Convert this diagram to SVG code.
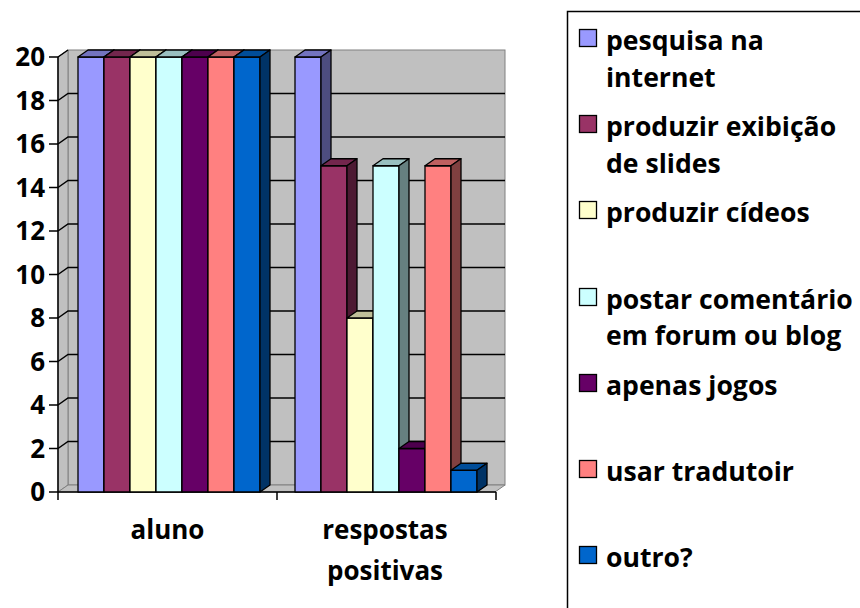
<svg xmlns="http://www.w3.org/2000/svg" width="860" height="608" viewBox="0 0 860 608">
<style>
.lbl{font-family:"Open Sans","Liberation Sans",sans-serif;font-weight:bold;font-size:26px;fill:#000}
.leg{font-family:"Open Sans","Liberation Sans",sans-serif;font-weight:bold;font-size:26.6px;fill:#000}
.wall{fill:#C0C0C0;stroke:#808080;stroke-width:1}
.grid{stroke:#000;stroke-width:1.5;fill:none}
.axis{stroke:#000;stroke-width:1.5;fill:none}
.bar{stroke:#000;stroke-width:1.3;stroke-linejoin:round}
.mk{stroke:#000;stroke-width:1.3}
</style>
<rect x="0" y="0" width="860" height="608" fill="#fff"/>
<g id="plot-area">
  <rect class="wall" x="68" y="50" width="437" height="435"/>
  <polygon class="wall" points="58,57 68,50 68,485 58,492"/>
  <polygon class="wall" points="58,492 68,485 505,485 495,492"/>
</g>
<g id="gridlines" class="grid">
  <path d="M58,448.5 L68,441.5 H505 M58,405 L68,398 H505 M58,361.5 L68,354.5 H505 M58,318 L68,311 H505 M58,274.5 L68,267.5 H505 M58,231 L68,224 H505 M58,187.5 L68,180.5 H505 M58,144 L68,137 H505 M58,100.5 L68,93.5 H505 M58,57 L68,50"/>
</g>
<g id="axes" class="axis">
  <path d="M58,57 V500 M49,492 H496 M49,448.5 H58 M49,405 H58 M49,361.5 H58 M49,318 H58 M49,274.5 H58 M49,231 H58 M49,187.5 H58 M49,144 H58 M49,100.5 H58 M49,57 H58 M277,492 V500 M496,492 V500"/>
</g>
<g id="y-labels" class="lbl" text-anchor="end">
  <text x="45" y="501">0</text>
  <text x="45" y="457.5">2</text>
  <text x="45" y="414">4</text>
  <text x="45" y="370.5">6</text>
  <text x="45" y="327">8</text>
  <text x="45" y="283.5">10</text>
  <text x="45" y="240">12</text>
  <text x="45" y="196.5">14</text>
  <text x="45" y="153">16</text>
  <text x="45" y="109.5">18</text>
  <text x="45" y="66">20</text>
</g>
<g id="x-labels" class="lbl" text-anchor="middle">
  <text x="167.5" y="539">aluno</text>
  <text x="385" y="539">respostas</text>
  <text x="385" y="580">positivas</text>
</g>
<g id="series-pesquisa" class="bar">
  <rect x="78" y="57" width="26" height="435" fill="#9999FF"/>
  <polygon points="78,57 88,50 114,50 104,57" fill="#7373BF"/>
  <polygon points="104,57 114,50 114,485 104,492" fill="#4D4D80"/>
  <rect x="295" y="57" width="26" height="435" fill="#9999FF"/>
  <polygon points="295,57 305,50 331,50 321,57" fill="#7373BF"/>
  <polygon points="321,57 331,50 331,485 321,492" fill="#4D4D80"/>
</g>
<g id="series-slides" class="bar">
  <rect x="104" y="57" width="26" height="435" fill="#993366"/>
  <polygon points="104,57 114,50 140,50 130,57" fill="#73264D"/>
  <polygon points="130,57 140,50 140,485 130,492" fill="#4D1A33"/>
  <rect x="321" y="165.75" width="26" height="326.25" fill="#993366"/>
  <polygon points="321,165.75 331,158.75 357,158.75 347,165.75" fill="#73264D"/>
  <polygon points="347,165.75 357,158.75 357,485 347,492" fill="#4D1A33"/>
</g>
<g id="series-videos" class="bar">
  <rect x="130" y="57" width="26" height="435" fill="#FFFFCC"/>
  <polygon points="130,57 140,50 166,50 156,57" fill="#BFBF99"/>
  <polygon points="156,57 166,50 166,485 156,492" fill="#808066"/>
  <rect x="347" y="318" width="26" height="174" fill="#FFFFCC"/>
  <polygon points="347,318 357,311 383,311 373,318" fill="#BFBF99"/>
  <polygon points="373,318 383,311 383,485 373,492" fill="#808066"/>
</g>
<g id="series-forum" class="bar">
  <rect x="156" y="57" width="26" height="435" fill="#CCFFFF"/>
  <polygon points="156,57 166,50 192,50 182,57" fill="#99BFBF"/>
  <polygon points="182,57 192,50 192,485 182,492" fill="#668080"/>
  <rect x="373" y="165.75" width="26" height="326.25" fill="#CCFFFF"/>
  <polygon points="373,165.75 383,158.75 409,158.75 399,165.75" fill="#99BFBF"/>
  <polygon points="399,165.75 409,158.75 409,485 399,492" fill="#668080"/>
</g>
<g id="series-jogos" class="bar">
  <rect x="182" y="57" width="26" height="435" fill="#660066"/>
  <polygon points="182,57 192,50 218,50 208,57" fill="#4D004D"/>
  <polygon points="208,57 218,50 218,485 208,492" fill="#330033"/>
  <rect x="399" y="448.5" width="26" height="43.5" fill="#660066"/>
  <polygon points="399,448.5 409,441.5 435,441.5 425,448.5" fill="#4D004D"/>
  <polygon points="425,448.5 435,441.5 435,485 425,492" fill="#330033"/>
</g>
<g id="series-tradutor" class="bar">
  <rect x="208" y="57" width="26" height="435" fill="#FF8080"/>
  <polygon points="208,57 218,50 244,50 234,57" fill="#BF6060"/>
  <polygon points="234,57 244,50 244,485 234,492" fill="#804040"/>
  <rect x="425" y="165.75" width="26" height="326.25" fill="#FF8080"/>
  <polygon points="425,165.75 435,158.75 461,158.75 451,165.75" fill="#BF6060"/>
  <polygon points="451,165.75 461,158.75 461,485 451,492" fill="#804040"/>
</g>
<g id="series-outro" class="bar">
  <rect x="234" y="57" width="26" height="435" fill="#0066CC"/>
  <polygon points="234,57 244,50 270,50 260,57" fill="#004D99"/>
  <polygon points="260,57 270,50 270,485 260,492" fill="#003366"/>
  <rect x="451" y="470.25" width="26" height="21.75" fill="#0066CC"/>
  <polygon points="451,470.25 461,463.25 487,463.25 477,470.25" fill="#004D99"/>
  <polygon points="477,470.25 487,463.25 487,485 477,492" fill="#003366"/>
</g>
<g id="legend">
  <rect x="567.5" y="11.5" width="400" height="700" fill="#fff" stroke="#000" stroke-width="1.5"/>
  <g id="leg-pesquisa">
    <rect class="mk" x="579.5" y="29.5" width="17" height="17" fill="#9999FF"/>
    <text class="leg" x="606" y="50">pesquisa na</text>
    <text class="leg" x="606" y="87">internet</text>
  </g>
  <g id="leg-slides">
    <rect class="mk" x="579.5" y="115.5" width="17" height="17" fill="#993366"/>
    <text class="leg" x="606" y="136">produzir exibição</text>
    <text class="leg" x="606" y="173">de slides</text>
  </g>
  <g id="leg-videos">
    <rect class="mk" x="579.5" y="201.5" width="17" height="17" fill="#FFFFCC"/>
    <text class="leg" x="606" y="222">produzir cídeos</text>
  </g>
  <g id="leg-forum">
    <rect class="mk" x="579.5" y="288.5" width="17" height="17" fill="#CCFFFF"/>
    <text class="leg" x="606" y="309">postar comentário</text>
    <text class="leg" x="606" y="345">em forum ou blog</text>
  </g>
  <g id="leg-jogos">
    <rect class="mk" x="579.5" y="374.5" width="17" height="17" fill="#660066"/>
    <text class="leg" x="606" y="395">apenas jogos</text>
  </g>
  <g id="leg-tradutor">
    <rect class="mk" x="579.5" y="460.5" width="17" height="17" fill="#FF8080"/>
    <text class="leg" x="606" y="481">usar tradutoir</text>
  </g>
  <g id="leg-outro">
    <rect class="mk" x="579.5" y="546.5" width="17" height="17" fill="#0066CC"/>
    <text class="leg" x="606" y="567">outro?</text>
  </g>
</g>
</svg>
